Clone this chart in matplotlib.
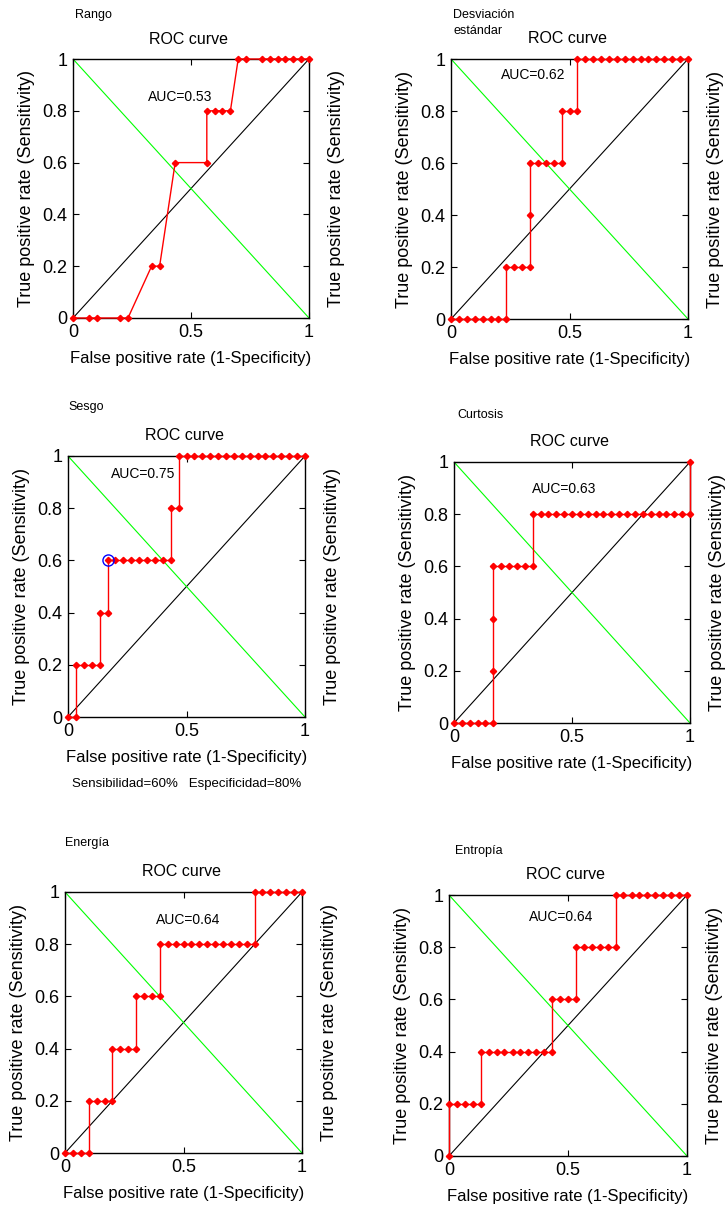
import matplotlib.pyplot as plt

# Data: ROC points (false positive rate, true positive rate) for each feature
rango_fpr = [0, 0.067, 0.1, 0.2, 0.233, 0.333, 0.367, 0.433, 0.567, 0.567, 0.6, 0.633, 0.667,
             0.7, 0.733, 0.8, 0.833, 0.867, 0.9, 0.933, 0.967, 1.0]
rango_tpr = [0, 0, 0, 0, 0, 0.2, 0.2, 0.6, 0.6, 0.8, 0.8, 0.8, 0.8,
             1, 1, 1, 1, 1, 1, 1, 1, 1]

desv_fpr = [0, 0.033, 0.067, 0.1, 0.133, 0.167, 0.2, 0.233, 0.233, 0.267, 0.3, 0.333, 0.333,
            0.333, 0.367, 0.4, 0.433, 0.467, 0.467, 0.5, 0.533, 0.533, 0.567, 0.6, 0.633, 0.667,
            0.7, 0.733, 0.767, 0.8, 0.833, 0.867, 0.9, 0.933, 0.967, 1.0]
desv_tpr = [0, 0, 0, 0, 0, 0, 0, 0, 0.2, 0.2, 0.2, 0.2, 0.4,
            0.6, 0.6, 0.6, 0.6, 0.6, 0.8, 0.8, 0.8, 1, 1, 1, 1, 1,
            1, 1, 1, 1, 1, 1, 1, 1, 1, 1]

sesgo_fpr = [0, 0.033, 0.033, 0.067, 0.1, 0.133, 0.133, 0.167, 0.167, 0.2, 0.233, 0.267, 0.3,
             0.333, 0.367, 0.4, 0.433, 0.433, 0.467, 0.467, 0.5, 0.533, 0.567, 0.6, 0.633,
             0.667, 0.7, 0.733, 0.767, 0.8, 0.833, 0.867, 0.9, 0.933, 0.967, 1.0]
sesgo_tpr = [0, 0, 0.2, 0.2, 0.2, 0.2, 0.4, 0.4, 0.6, 0.6, 0.6, 0.6, 0.6,
             0.6, 0.6, 0.6, 0.6, 0.8, 0.8, 1, 1, 1, 1, 1, 1,
             1, 1, 1, 1, 1, 1, 1, 1, 1, 1, 1]
sesgo_cut = (0.167, 0.6)  # chosen operating point

curt_fpr = [0, 0.033, 0.067, 0.1, 0.133, 0.167, 0.167, 0.167, 0.167, 0.2, 0.233, 0.267, 0.3,
            0.333, 0.333, 0.367, 0.4, 0.433, 0.467, 0.5, 0.533, 0.567, 0.6, 0.633, 0.667,
            0.7, 0.733, 0.767, 0.8, 0.833, 0.867, 0.9, 0.933, 0.967, 1.0, 1.0]
curt_tpr = [0, 0, 0, 0, 0, 0, 0.2, 0.4, 0.6, 0.6, 0.6, 0.6, 0.6,
            0.6, 0.8, 0.8, 0.8, 0.8, 0.8, 0.8, 0.8, 0.8, 0.8, 0.8, 0.8,
            0.8, 0.8, 0.8, 0.8, 0.8, 0.8, 0.8, 0.8, 0.8, 0.8, 1.0]

ener_fpr = [0, 0.033, 0.067, 0.1, 0.1, 0.133, 0.167, 0.2, 0.2, 0.233, 0.267, 0.3, 0.3,
            0.333, 0.367, 0.4, 0.4, 0.433, 0.467, 0.5, 0.533, 0.567, 0.6, 0.633, 0.667,
            0.7, 0.733, 0.767, 0.8, 0.8, 0.833, 0.867, 0.9, 0.933, 0.967, 1.0]
ener_tpr = [0, 0, 0, 0, 0.2, 0.2, 0.2, 0.2, 0.4, 0.4, 0.4, 0.4, 0.6,
            0.6, 0.6, 0.6, 0.8, 0.8, 0.8, 0.8, 0.8, 0.8, 0.8, 0.8, 0.8,
            0.8, 0.8, 0.8, 0.8, 1, 1, 1, 1, 1, 1, 1]

entr_fpr = [0, 0, 0.033, 0.067, 0.1, 0.133, 0.133, 0.167, 0.2, 0.233, 0.267, 0.3, 0.333,
            0.367, 0.4, 0.433, 0.433, 0.467, 0.5, 0.533, 0.533, 0.567, 0.6, 0.633, 0.667,
            0.7, 0.7, 0.733, 0.767, 0.8, 0.833, 0.867, 0.9, 0.933, 0.967, 1.0]
entr_tpr = [0, 0.2, 0.2, 0.2, 0.2, 0.2, 0.4, 0.4, 0.4, 0.4, 0.4, 0.4, 0.4,
            0.4, 0.4, 0.4, 0.6, 0.6, 0.6, 0.6, 0.8, 0.8, 0.8, 0.8, 0.8,
            0.8, 1, 1, 1, 1, 1, 1, 1, 1, 1, 1]

features = ['Rango', 'Desviación\nestándar', 'Sesgo', 'Curtosis', 'Energía', 'Entropía']
auc_labels = ['AUC=0.53', 'AUC=0.62', 'AUC=0.75', 'AUC=0.63', 'AUC=0.64', 'AUC=0.64']
x_ticks = [0, 0.5, 1]
x_tick_labels = ['0', '0.5', '1']
y_ticks = [0, 0.2, 0.4, 0.6, 0.8, 1]
y_tick_labels = ['0', '0.2', '0.4', '0.6', '0.8', '1']

curves = [(rango_fpr, rango_tpr), (desv_fpr, desv_tpr), (sesgo_fpr, sesgo_tpr),
          (curt_fpr, curt_tpr), (ener_fpr, ener_tpr), (entr_fpr, entr_tpr)]

# Layout in pixels: axes box (left, top, right, bottom), AUC text spot, feature label spot
W, H = 727, 1211
boxes = [(73, 59, 309, 318), (451, 59, 688, 319), (68, 456, 305, 717),
         (454, 462, 690, 723), (65, 892, 302, 1153), (449, 895, 687, 1156)]
auc_pos = [(0.453, 0.854), (0.348, 0.94), (0.317, 0.931), (0.465, 0.896), (0.521, 0.894), (0.473, 0.916)]
feat_pos = [(75, 15), (453, 23), (68, 407), (457, 415), (65, 843), (455, 851)]

plt.rcParams['font.family'] = ['Liberation Sans', 'DejaVu Sans']

fig = plt.figure(figsize=(W / 100, H / 100), dpi=100, facecolor='white')

for i, (fpr, tpr) in enumerate(curves):
    l, t, r, b = boxes[i]
    ax = fig.add_axes([l / W, 1 - b / H, (r - l) / W, (b - t) / H])

    # reference diagonals
    ax.plot([0, 1], [0, 1], color='black', linewidth=0.8)
    ax.plot([0, 1], [1, 0], color='#00ff00', linewidth=0.8)

    # ROC curve
    ax.plot(fpr, tpr, color='red', linewidth=1.0, marker='D', markersize=3.2,
            markerfacecolor='red', markeredgecolor='red', clip_on=False, zorder=3)

    if i == 2:
        ax.plot([sesgo_cut[0]], [sesgo_cut[1]], marker='o', markersize=8, markerfacecolor='none',
                markeredgecolor='blue', markeredgewidth=1.0, linestyle='none', zorder=4)
        ax.text(0.5, -0.255, 'Sensibilidad=60%   Especificidad=80%', transform=ax.transAxes,
                ha='center', va='center', fontsize=9.5)

    ax.set_xlim(0, 1)
    ax.set_ylim(0, 1)
    ax.set_xticks(x_ticks)
    ax.set_xticklabels(x_tick_labels)
    ax.set_yticks(y_ticks)
    ax.set_yticklabels(y_tick_labels)
    ax.tick_params(direction='in', top=True, right=True, length=4, width=0.8,
                   labelsize=13, pad=4)
    for s in ax.spines.values():
        s.set_linewidth(1.0)

    ax.text(auc_pos[i][0], auc_pos[i][1], auc_labels[i], transform=ax.transAxes,
            ha='center', va='center', fontsize=10)

    ax.set_title('ROC curve', fontsize=11.5, x=0.49, y=1.077, va='center', pad=0)
    ax.set_xlabel('False positive rate (1-Specificity)', fontsize=12)
    ax.xaxis.set_label_coords(0.5, -0.155)
    ax.xaxis.label.set_va('center')
    ax.set_ylabel('True positive rate (Sensitivity)', fontsize=13)
    ax.yaxis.set_label_coords(-0.195, 0.5)
    ax.yaxis.label.set_va('center')

    # same label repeated on the right side
    ax.text(1.115, 0.5, 'True positive rate (Sensitivity)', transform=ax.transAxes,
            rotation=90, ha='center', va='center', fontsize=13)

    # feature name in the top-left corner
    fx, fy = feat_pos[i]
    fig.text(fx / W, 1 - fy / H, features[i], ha='left', va='center', fontsize=9,
             linespacing=1.5)

plt.savefig('out.png', dpi=100)
